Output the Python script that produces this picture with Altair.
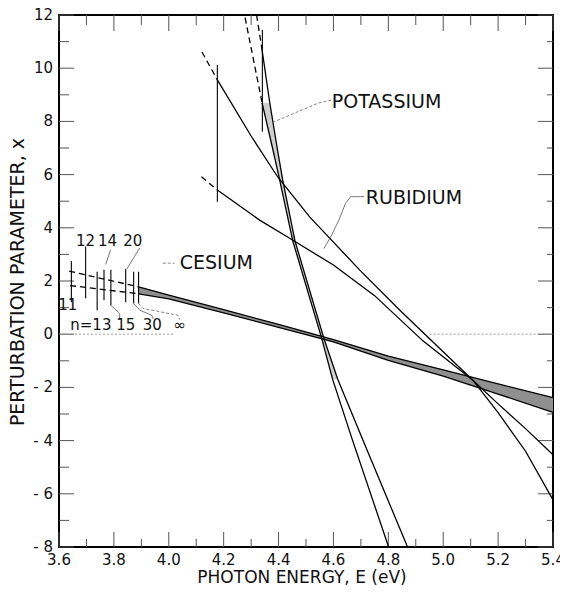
import altair as alt
import pandas as pd

# ---------------- axes / ticks ----------------
E_DOMAIN = [3.6, 5.4]
X_DOMAIN = [-8, 12]
E_MAJOR = [3.6, 3.8, 4.0, 4.2, 4.4, 4.6, 4.8, 5.0, 5.2, 5.4]
E_LABELS = ["3.6", "3.8", "4.0", "4.2", "4.4", "4.6", "4.8", "5.0", "5.2", "5.4"]
E_MINOR = [3.7, 3.9, 4.1, 4.3, 4.5, 4.7, 4.9, 5.1, 5.3]
X_MAJOR = [-8, -6, -4, -2, 0, 2, 4, 6, 8, 10, 12]
X_LABELS = ["- 8", "- 6", "- 4", "- 2", "0", "2", "4", "6", "8", "10", "12"]
X_MINOR = [-7, -5, -3, -1, 1, 3, 5, 7, 9, 11]
X_TITLE = "PHOTON ENERGY, E (eV)"
Y_TITLE = "PERTURBATION PARAMETER, x"

# dotted zero reference pieces (E from, E to)
ZERO_FROM = [3.6, 4.95]
ZERO_TO = [4.02, 5.4]

# ---------------- cesium ----------------
CS_E = [3.89, 4.0, 4.2, 4.4, 4.6, 4.8, 5.0, 5.2, 5.4]
CS_UPPER = [1.78, 1.47, 0.92, 0.37, -0.20, -0.82, -1.34, -1.87, -2.38]
CS_LOWER = [1.52, 1.33, 0.80, 0.26, -0.29, -0.98, -1.58, -2.25, -2.94]
CS_DASH_UP_E = [3.637, 3.89]
CS_DASH_UP_X = [2.37, 1.78]
CS_DASH_LO_E = [3.640, 3.89]
CS_DASH_LO_X = [1.83, 1.52]

CS_SERIES_N = ["11", "12", "13", "14", "15", "20", "30", "∞"]
CS_SERIES_E = [3.645, 3.697, 3.739, 3.764, 3.789, 3.843, 3.872, 3.890]
CS_SERIES_TOP = [2.75, 3.30, 2.35, 2.42, 2.42, 2.45, 2.35, 2.35]
CS_SERIES_BOTTOM = [1.20, 1.35, 0.90, 1.28, 1.09, 1.20, 1.15, 1.15]

# ---------------- potassium ----------------
K_X = [8.7, 7.0, 5.8, 3.5, 1.0, -0.15, -1.7, -4.0, -8.0]
K_LEFT_E = [4.340, 4.378, 4.404, 4.452, 4.524, 4.557, 4.597, 4.670, 4.801]
K_RIGHT_E = [4.368, 4.395, 4.415, 4.460, 4.532, 4.565, 4.616, 4.708, 4.870]
K_RIGHT_TOP_E = [4.340, 4.368]
K_RIGHT_TOP_X = [10.68, 8.7]
K_DASH_LEFT_E = [4.278, 4.340]
K_DASH_LEFT_X = [11.9, 8.7]
K_DASH_RIGHT_E = [4.320, 4.340]
K_DASH_RIGHT_X = [12.0, 10.68]
K_HATCH_N = 7  # hatched part of the K band (first points of K_X)

# ---------------- rubidium ----------------
RB_A_E = [4.177, 4.30, 4.397, 4.514, 4.696, 4.842, 5.108, 5.2, 5.3, 5.4]
RB_A_X = [9.56, 7.45, 5.91, 4.40, 2.41, 0.90, -1.73, -2.95, -4.40, -6.23]
RB_B_E = [4.177, 4.331, 4.451, 4.60, 4.75, 4.926, 5.108, 5.2, 5.3, 5.4]
RB_B_X = [5.42, 4.29, 3.54, 2.60, 1.45, -0.25, -1.73, -2.62, -3.55, -4.53]
RB_DASH_A_E = [4.121, 4.177]
RB_DASH_A_X = [10.61, 9.56]
RB_DASH_B_E = [4.119, 4.177]
RB_DASH_B_X = [5.92, 5.42]

# ionisation-limit bars
IP_E = [4.177, 4.341]
IP_TOP = [10.12, 11.44]
IP_BOTTOM = [4.98, 7.61]

# ---------------- labels ----------------
NAME_TEXT = ["CESIUM", "POTASSIUM", "RUBIDIUM"]
NAME_E = [4.040, 4.594, 4.718]
NAME_X = [2.67, 8.73, 5.12]

N_TEXT = ["12", "14", "20", "11", "n=13", "15", "30", "∞"]
N_E = [3.697, 3.777, 3.869, 3.632, 3.716, 3.843, 3.940, 4.040]
N_X = [3.50, 3.50, 3.50, 1.10, 0.34, 0.34, 0.34, 0.34]

# leader lines (E, x) pairs
LEAD_K_E = [4.592, 4.545, 4.373]
LEAD_K_X = [8.80, 8.69, 7.94]
LEAD_RB_E = [4.711, 4.663, 4.644, 4.620, 4.590, 4.565]
LEAD_RB_X = [5.17, 5.17, 4.92, 4.29, 3.66, 3.22]
LEAD_CS_E = [3.978, 4.021]
LEAD_CS_X = [2.67, 2.67]
LEAD_14_E = [3.788, 3.770]
LEAD_14_X = [3.17, 2.62]
LEAD_20_E = [3.894, 3.847]
LEAD_20_X = [3.24, 2.45]
LEAD_15_E = [3.789, 3.821, 3.821]
LEAD_15_X = [1.09, 0.78, 0.55]
LEAD_30_E = [3.872, 3.895, 3.938, 3.943]
LEAD_30_X = [1.15, 0.90, 0.71, 0.58]
LEAD_INF_E = [3.890, 3.906, 4.034, 4.040]
LEAD_INF_X = [1.15, 0.97, 0.71, 0.55]


def seg(name, E, X):
    return pd.DataFrame({"id": name, "i": list(range(len(E))), "E": E, "x": X})


FONT = "DejaVu Sans"
W, H = 494, 532
TICK_COLOR = "#555"
TEXT_COLOR = "#111"

xs = alt.Scale(domain=E_DOMAIN, nice=False, zero=False)
ys = alt.Scale(domain=X_DOMAIN, nice=False, zero=False)


def X(field):
    return alt.X(field, scale=xs, axis=None)


def Y(field):
    return alt.Y(field, scale=ys, axis=None)


# ---- inward tick marks ----
def x_ticks(values, y0, y1):
    return alt.Chart(pd.DataFrame({"E": values})).mark_rule(
        color=TICK_COLOR, strokeWidth=1).encode(
        x=X("E:Q"), y=alt.value(y0), y2=alt.value(y1))


def y_ticks(values, x0, x1):
    return alt.Chart(pd.DataFrame({"v": values})).mark_rule(
        color=TICK_COLOR, strokeWidth=1).encode(
        y=Y("v:Q"), x=alt.value(x0), x2=alt.value(x1))


ticks = [
    x_ticks(E_MAJOR, H, H - 15), x_ticks(E_MINOR, H, H - 8),
    x_ticks(E_MAJOR, 0, 16), x_ticks(E_MINOR, 0, 10),
    y_ticks(X_MAJOR, 0, 15), y_ticks(X_MINOR, 0, 10),
    y_ticks(X_MAJOR, W, W - 15), y_ticks(X_MINOR, W, W - 6),
]

# ---- tick labels and axis titles ----
l_xlab = alt.Chart(pd.DataFrame({"E": E_MAJOR, "t": E_LABELS})).mark_text(
    align="center", baseline="middle", font=FONT, fontSize=15, color=TEXT_COLOR).encode(
    x=X("E:Q"), y=alt.value(H + 13), text="t:N")
l_ylab = alt.Chart(pd.DataFrame({"v": X_MAJOR, "t": X_LABELS})).mark_text(
    align="right", baseline="middle", font=FONT, fontSize=15, color=TEXT_COLOR).encode(
    y=Y("v:Q"), x=alt.value(-6), text="t:N")
l_xtitle = alt.Chart(pd.DataFrame({"t": [X_TITLE]})).mark_text(
    align="center", baseline="middle", font=FONT, fontSize=17, color=TEXT_COLOR).encode(
    x=alt.value(243), y=alt.value(H + 31), text="t:N")
l_ytitle = alt.Chart(pd.DataFrame({"t": [Y_TITLE]})).mark_text(
    align="center", baseline="middle", font=FONT, fontSize=19, color=TEXT_COLOR,
    angle=270).encode(
    x=alt.value(-41), y=alt.value(267), text="t:N")

zero_df = pd.DataFrame({"E": ZERO_FROM, "E1": ZERO_TO, "x": [0] * len(ZERO_FROM)})
l_zero = alt.Chart(zero_df).mark_rule(color="#888", strokeWidth=0.8, strokeDash=[2, 2]).encode(
    x=X("E:Q"), x2="E1:Q", y=Y("x:Q"),
)

# ---- cesium band (hatched region) ----
cs_band = pd.DataFrame({"E": CS_E, "x": CS_UPPER, "lo": CS_LOWER})
l_cs = alt.Chart(cs_band).mark_area(color="#8f8f8f").encode(
    x=X("E:Q"), y=Y("x:Q"), y2="lo:Q",
)

# ---- potassium band (hatched upper part) ----
k_band = pd.DataFrame({"x": K_X[:K_HATCH_N], "E": K_LEFT_E[:K_HATCH_N],
                       "Er": K_RIGHT_E[:K_HATCH_N]})
l_k = alt.Chart(k_band).mark_area(orient="horizontal", color="#cfcfcf").encode(
    y=Y("x:Q"), x=X("E:Q"), x2="Er:Q",
)

# ---- solid curves ----
solid = pd.concat([
    seg("cs_up", CS_E, CS_UPPER),
    seg("cs_lo", CS_E, CS_LOWER),
    seg("k_left", K_LEFT_E, K_X),
    seg("k_right", K_RIGHT_TOP_E[:1] + K_RIGHT_E, K_RIGHT_TOP_X[:1] + K_X),
    seg("rb_a", RB_A_E, RB_A_X),
    seg("rb_b", RB_B_E, RB_B_X),
])
l_solid = alt.Chart(solid).mark_line(color="black", strokeWidth=1.3).encode(
    x=X("E:Q"), y=Y("x:Q"), detail="id:N", order="i:Q",
)

# ---- dashed extensions ----
dashed = pd.concat([
    seg("cs_du", CS_DASH_UP_E, CS_DASH_UP_X),
    seg("cs_dl", CS_DASH_LO_E, CS_DASH_LO_X),
    seg("k_dl", K_DASH_LEFT_E, K_DASH_LEFT_X),
    seg("k_dr", K_DASH_RIGHT_E, K_DASH_RIGHT_X),
    seg("rb_da", RB_DASH_A_E, RB_DASH_A_X),
    seg("rb_db", RB_DASH_B_E, RB_DASH_B_X),
])
l_dash = alt.Chart(dashed).mark_line(color="black", strokeWidth=1.3, strokeDash=[6, 4]).encode(
    x=X("E:Q"), y=Y("x:Q"), detail="id:N", order="i:Q",
)

# ---- vertical bars: ionisation limits + Cs series members ----
bars = pd.DataFrame({
    "E": IP_E + CS_SERIES_E,
    "x": IP_TOP + CS_SERIES_TOP,
    "bot": IP_BOTTOM + CS_SERIES_BOTTOM,
})
l_bars = alt.Chart(bars).mark_rule(color="black", strokeWidth=1.1).encode(
    x=X("E:Q"), y=Y("x:Q"), y2="bot:Q",
)

# ---- leader lines ----
leaders_solid = pd.concat([
    seg("l14", LEAD_14_E, LEAD_14_X),
    seg("l20", LEAD_20_E, LEAD_20_X),
    seg("l15", LEAD_15_E, LEAD_15_X),
    seg("l30", LEAD_30_E, LEAD_30_X),
    seg("lrb", LEAD_RB_E, LEAD_RB_X),
])
leaders_dash = pd.concat([
    seg("lk", LEAD_K_E, LEAD_K_X),
    seg("lcs", LEAD_CS_E, LEAD_CS_X),
    seg("linf", LEAD_INF_E, LEAD_INF_X),
])
l_lead1 = alt.Chart(leaders_solid).mark_line(color="#555", strokeWidth=0.8).encode(
    x=X("E:Q"), y=Y("x:Q"), detail="id:N", order="i:Q",
)
l_lead2 = alt.Chart(leaders_dash).mark_line(color="#666", strokeWidth=0.8, strokeDash=[3, 2]).encode(
    x=X("E:Q"), y=Y("x:Q"), detail="id:N", order="i:Q",
)

# ---- texts ----
names = pd.DataFrame({"E": NAME_E, "x": NAME_X, "t": NAME_TEXT})
l_names = alt.Chart(names).mark_text(align="left", baseline="middle", font=FONT,
                                     fontSize=19, color=TEXT_COLOR).encode(
    x=X("E:Q"), y=Y("x:Q"), text="t:N",
)
nlab = pd.DataFrame({"E": N_E, "x": N_X, "t": N_TEXT})
l_nlab = alt.Chart(nlab).mark_text(align="center", baseline="middle", font=FONT,
                                   fontSize=15, color=TEXT_COLOR).encode(
    x=X("E:Q"), y=Y("x:Q"), text="t:N",
)

chart = alt.layer(
    l_cs, l_k, *ticks, l_zero, l_solid, l_dash, l_bars, l_lead1, l_lead2,
    l_names, l_nlab, l_xlab, l_ylab, l_xtitle, l_ytitle
).properties(
    width=W, height=H,
    autosize=alt.AutoSizeParams(type="none"),
    padding={"left": 51, "top": 7, "right": 7, "bottom": 51},
    background="white",
).configure_view(
    stroke="black", strokeWidth=2
)

chart.save("out.html", embed_options={"renderer": "svg", "actions": False})
